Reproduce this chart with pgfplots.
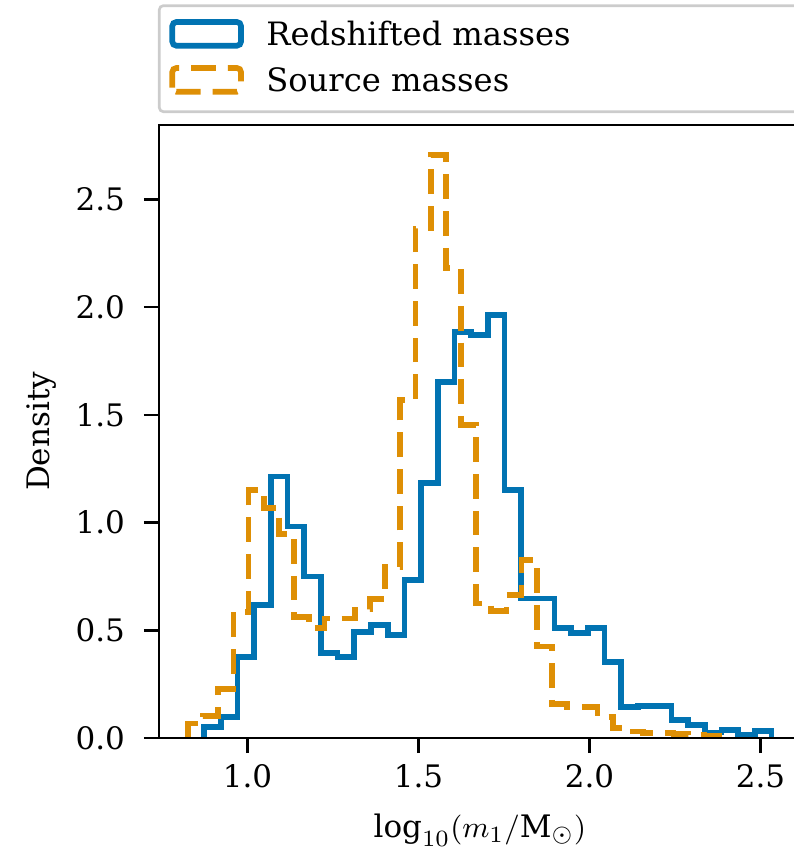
\documentclass[border=0pt]{standalone}
\usepackage{fontspec}
\setmainfont{DejaVu Serif}
\usepackage{pgfplots}
\pgfplotsset{compat=1.18}
\definecolor{cbblue}{HTML}{0173B2}
\definecolor{cborange}{HTML}{DE8F05}
\pgfplotsset{rect legend/.style={legend image code/.code={\draw[##1] (0pt,0pt) rectangle (20.6pt,7.1pt);}}}
\begin{document}
\begin{tikzpicture}[font=\fontsize{9.3}{11}\selectfont]
\useasboundingbox (0,0) rectangle (238.2pt,255.6pt);
\clip (0,0) rectangle (238.2pt,255.6pt);
\begin{axis}[
  at={(47.7pt,34.2pt)}, anchor=south west,
  scale only axis, width=192.5pt, height=183.9pt,
  xmin=0.741, xmax=2.6175, ymin=0, ymax=2.845,
  xtick={1,1.5,2,2.5}, ytick={0,0.5,1,1.5,2,2.5},
  tick pos=left, tick align=outside,
  major tick length=4.5pt,
  every tick/.style={black, line width=0.75pt},
  axis line style={line width=0.75pt},
  axis on top,
  /pgf/number format/assume math mode=true,
  xticklabel style={/pgf/number format/.cd, fixed, fixed zerofill, precision=1},
  yticklabel style={xshift=-2.2pt, /pgf/number format/.cd, fixed, fixed zerofill, precision=1},
  xlabel={$\log_{10}(m_1/\mathrm{M}_\odot)$},
  ylabel={Density},
  x label style={at={(axis description cs:0.5,-0.163)}, anchor=base},
  y label style={at={(axis description cs:-0.170,0.5)}, anchor=base},
  legend style={at={(0,1)}, anchor=south west, xshift=-0.3pt, yshift=3.6pt,
    draw=black!20, line width=0.8pt, rounded corners=1.2pt,
    inner xsep=3.05pt, inner ysep=2.1pt, row sep=0pt, column sep=6.75pt,
    cells={anchor=base west},
    nodes={inner xsep=0pt, inner ysep=0pt, text height=9.9pt, text depth=3.9pt},
    font=\fontsize{9.65}{12}\selectfont},
]
\addlegendimage{cbblue, line width=1.7pt, rect legend}
\addlegendentry{\makebox[180pt][l]{Redshifted masses}}
\addlegendimage{cborange, line width=1.7pt, dash pattern=on 7.4pt off 3.6pt, rect legend}
\addlegendentry{\makebox[180pt][l]{Source masses}}

\addplot[forget plot, const plot, cbblue, line width=1.7pt] coordinates {
(0.8730,0)
(0.8730,0.052)
(0.9218,0.099)
(0.9706,0.377)
(1.0194,0.617)
(1.0682,1.213)
(1.1170,0.981)
(1.1658,0.749)
(1.2146,0.393)
(1.2634,0.377)
(1.3122,0.493)
(1.3610,0.524)
(1.4098,0.478)
(1.4586,0.733)
(1.5074,1.182)
(1.5562,1.653)
(1.6050,1.885)
(1.6538,1.870)
(1.7026,1.963)
(1.7514,1.151)
(1.8002,0.648)
(1.8490,0.648)
(1.8978,0.509)
(1.9466,0.486)
(1.9954,0.509)
(2.0442,0.354)
(2.0930,0.145)
(2.1418,0.150)
(2.1906,0.150)
(2.2394,0.084)
(2.2882,0.060)
(2.3370,0.025)
(2.3858,0.037)
(2.4346,0.014)
(2.4834,0.034)
(2.5322,0)
};
\addplot[forget plot, const plot, cborange, line width=1.7pt, dash pattern=on 7.4pt off 3.6pt] coordinates {
(0.8257,0)
(0.8257,0.068)
(0.8701,0.103)
(0.9144,0.228)
(0.9588,0.586)
(1.0031,1.151)
(1.0475,1.066)
(1.0919,0.946)
(1.1362,0.563)
(1.1806,0.509)
(1.2249,0.555)
(1.2693,0.555)
(1.3137,0.596)
(1.3580,0.644)
(1.4024,0.795)
(1.4467,1.568)
(1.4911,2.365)
(1.5355,2.705)
(1.5798,2.180)
(1.6242,1.452)
(1.6685,0.625)
(1.7129,0.590)
(1.7573,0.664)
(1.8016,0.826)
(1.8460,0.424)
(1.8903,0.158)
(1.9347,0.145)
(1.9791,0.145)
(2.0234,0.099)
(2.0678,0.045)
(2.1121,0.030)
(2.1565,0.022)
(2.2009,0.022)
(2.2452,0.020)
(2.2896,0.015)
(2.3339,0.010)
(2.3783,0)
};
\end{axis}
\end{tikzpicture}
\end{document}
